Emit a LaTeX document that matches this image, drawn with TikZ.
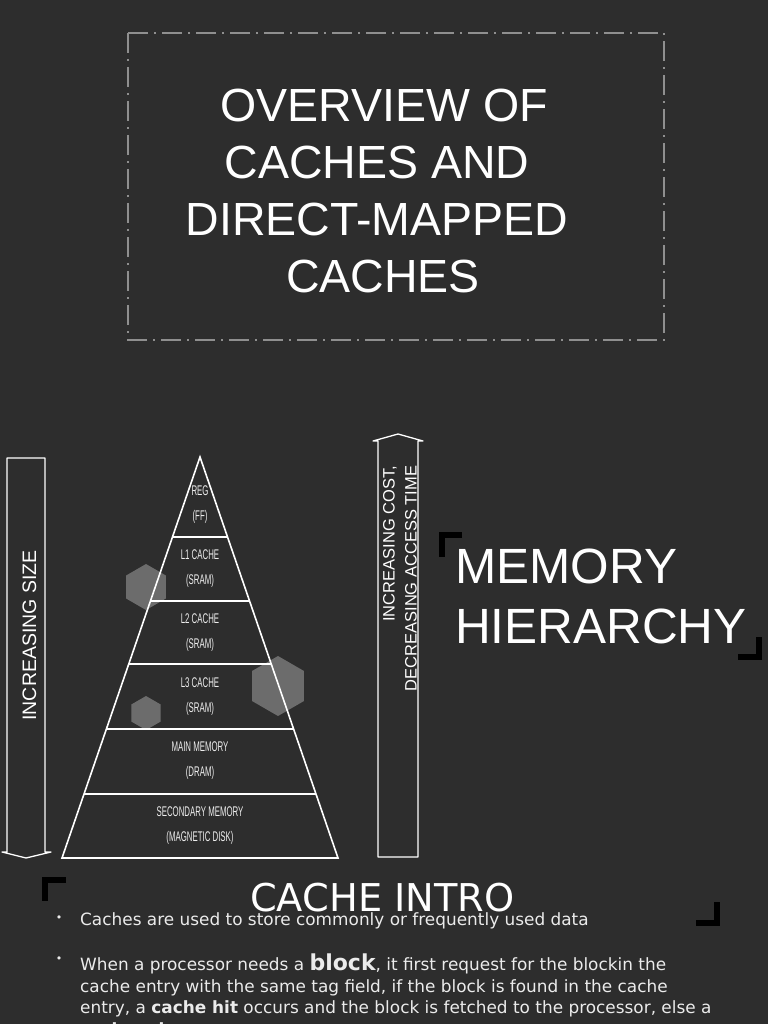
\documentclass[tikz,border=0pt]{standalone}
\usepackage{fontspec}
\setmainfont{Liberation Sans}
\newfontfamily\bodyfont{DejaVu Sans}
\newfontfamily\narrowfont[FakeStretch=0.56]{Liberation Sans}
\usetikzlibrary{calc,shapes.geometric}
\definecolor{slide}{HTML}{2D2D2D}
\definecolor{frameline}{HTML}{8F8F8F}
\definecolor{labeltext}{HTML}{EEEEEE}
\tikzset{
    title line/.style={white, font=\fontsize{46.5}{46.5}\selectfont, anchor=base, inner sep=0pt},
    title frame/.style={frameline, line width=1.4pt, dash pattern=on 20pt off 6pt on 2pt off 6pt},
    head line/.style={white, font=\fontsize{49.5}{49.5}\selectfont, anchor=base west, inner sep=0pt},
    bracket/.style={black, line width=6pt, miter limit=10},
    arrow outline/.style={white, line width=1.3pt, line join=round},
    side label/.style={white, rotate=90, inner sep=0pt, align=right},
    tier line/.style={white, line width=1.6pt},
    tier label/.style={labeltext, align=center, inner sep=0pt, font=\narrowfont\fontsize{14}{25}\selectfont},
    hexagon/.style={regular polygon, regular polygon sides=6, shape border rotate=30, fill=white, fill opacity=0.3, inner sep=0pt},
    body line/.style={white!92!black, anchor=base west, inner sep=0pt, font=\bodyfont\fontsize{16.9}{16.9}\selectfont},
    dot/.style={white!92!black, inner sep=0pt, font=\bodyfont\fontsize{11}{11}\selectfont}
}
\begin{document}
\begin{tikzpicture}[x=1pt, y=-1pt]
	\fill[slide] (0,0) rectangle (768,1024);
	\useasboundingbox (0,0) rectangle (768,1024);
	\clip (0,0) rectangle (768,1024);

	% title
	\draw[title frame] (128,33) rectangle (664,340);
	\node[title line] (t1) at (384,122) {OVERVIEW OF};
	\node[title line] (t2) at (377,179) {CACHES AND};
	\node[title line] (t3) at (377,236) {DIRECT-MAPPED};
	\node[title line] (t4) at (383,292) {CACHES};

	% size and cost arrows
	\draw[arrow outline] (7,458) -- (45,458) -- (45,852) -- (51,852) -- (26,858) -- (2,852) -- (7,852) -- cycle;
	\node[side label, font=\fontsize{19.5}{19.5}\selectfont] (size) at (29.5,635.5) {INCREASING SIZE};
	\draw[arrow outline] (378,857) -- (378,441) -- (373,441) -- (398,434) -- (423,441) -- (418,441) -- (418,857) -- cycle;
	\node[side label, font=\fontsize{16.5}{22}\selectfont] (cost) at (400,578.5) {INCREASING COST,\\DECREASING ACCESS TIME};

	% pyramid
	\coordinate (apex) at (200,457);
	\coordinate (bl) at (62,858);
	\coordinate (br) at (338,858);
	\draw[tier line, line join=miter] (apex) -- (bl) -- (br) -- cycle;
	\foreach \t in {0.1995,0.359,0.516,0.678,0.840}
		\draw[tier line] ($(apex)!\t!(bl)$) -- ($(apex)!\t!(br)$);
	\node[tier label] (reg) at (200,505) {REG\\(FF)};
	\node[tier label] (l1) at (200,569) {L1 CACHE\\(SRAM)};
	\node[tier label] (l2) at (200,633) {L2 CACHE\\(SRAM)};
	\node[tier label] (l3) at (200,697) {L3 CACHE\\(SRAM)};
	\node[tier label] (main) at (200,761) {MAIN MEMORY\\(DRAM)};
	\node[tier label] (disk) at (200,826) {SECONDARY MEMORY\\(MAGNETIC DISK)};
	\node[hexagon, minimum size=46pt] (hexa) at (146,587) {};
	\node[hexagon, minimum size=60pt] (hexb) at (278,686) {};
	\node[hexagon, minimum size=34pt] (hexc) at (146,713) {};

	% memory hierarchy heading
	\draw[bracket] (462,535) -- (441.5,535) -- (441.5,557);
	\node[head line] (mem) at (455,583) {MEMORY};
	\node[head line] (hier) at (455,643) {HIERARCHY};
	\draw[bracket] (758.5,637) -- (758.5,657) -- (738,657);

	% cache intro
	\draw[bracket] (66,880) -- (45,880) -- (45,901);
	\node[white, anchor=base west, inner sep=0pt, font=\bodyfont\fontsize{38.3}{38.3}\selectfont] (intro) at (250,911) {CACHE INTRO};
	\draw[bracket] (717,902) -- (717,923) -- (696,923);
	\node[dot] (b1) at (59,919) {•};
	\node[body line] (p1) at (80,925) {Caches are used to store commonly or frequently used data};
	\node[dot] (b2) at (59,960) {•};
	\node[body line] (p2) at (80,970) {When a processor needs a {\bfseries\fontsize{22}{22}\selectfont block}, it first request for the blockin the};
	\node[body line] (p3) at (80,992) {cache entry with the same tag field, if the block is found in the cache};
	\node[body line] (p4) at (80,1013) {entry, a \textbf{cache hit} occurs and the block is fetched to the processor, else a};
	\node[body line] (p5) at (80,1035) {\textbf{cache miss}};
\end{tikzpicture}
\end{document}
